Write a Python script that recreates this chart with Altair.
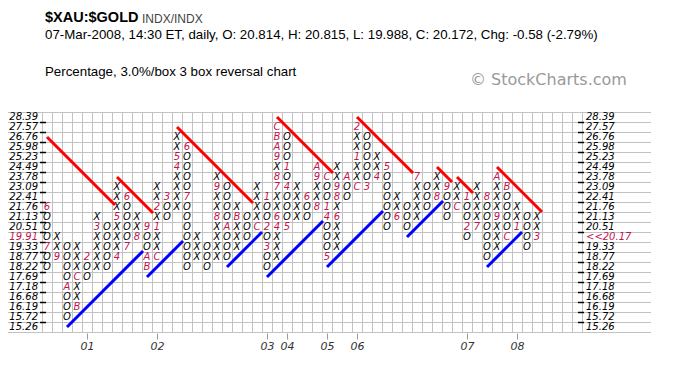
import altair as alt
import pandas as pd

# ---- data -------------------------------------------------------------------------
box_prices = ["28.39", "27.57", "26.76", "25.98", "25.23", "24.49", "23.78", "23.09",
              "22.41", "21.76", "21.13", "20.51", "19.91", "19.33", "18.77", "18.22",
              "17.69", "17.18", "16.68", "16.19", "15.72", "15.26"]
right_labels = ["28.39", "27.57", "26.76", "25.98", "25.23", "24.49", "23.78", "23.09",
                "22.41", "21.76", "21.13", "20.51", "<<20.17", "19.33", "18.77", "18.22",
                "17.69", "17.18", "16.68", "16.19", "15.72", "15.26"]
highlight_row = 12

col_types = "OX" * 25
col_top = [9, 12, 13, 13, 14, 10, 11, 7, 8, 10,
           11, 7, 8, 2, 3, 12, 13, 6, 7, 9,
           10, 7, 8, 1, 2, 7, 8, 5, 6, 5,
           6, 1, 2, 4, 5, 8, 9, 6, 7, 6,
           7, 7, 8, 7, 8, 6, 7, 9, 10, 10]
col_bottom = [15, 14, 20, 19, 16, 15, 15, 14, 13, 12,
              15, 14, 10, 9, 15, 14, 15, 14, 14, 13,
              12, 11, 15, 14, 11, 10, 10, 9, 14, 13,
              8, 7, 7, 6, 11, 10, 11, 10, 9, 8,
              10, 9, 12, 11, 14, 13, 12, 11, 13, 12]

month_col = [0, 0, 1, 2, 3, 3, 4, 5, 7, 7, 8, 8, 9, 10, 10, 10, 11, 11, 11, 12,
             13, 13, 14, 14, 17, 17, 18, 19, 21, 22, 22, 22, 23, 23, 23, 23, 23, 23, 23, 23,
             24, 24, 24, 26, 27, 27, 27, 28, 28, 28, 28, 29, 29, 29, 30, 31, 31, 31, 32, 33,
             34, 35, 37, 39, 40, 41, 42, 42, 43, 44, 45, 45, 46, 46, 47, 49]
month_row = [9, 13, 14, 17, 19, 16, 14, 11, 14, 10, 8, 13, 12, 11, 14, 15, 14, 11, 9, 8,
             5, 4, 3, 8, 10, 7, 11, 10, 11, 8, 11, 13, 11, 10, 7, 6, 4, 3, 2, 1,
             5, 7, 11, 8, 9, 6, 5, 6, 9, 10, 14, 10, 8, 7, 6, 7, 4, 1, 7, 6,
             5, 10, 6, 8, 7, 9, 8, 11, 11, 8, 10, 6, 7, 12, 11, 12]
month_label = ["6", "7", "9", "A", "B", "C", "2", "3", "4", "5", "6", "7", "8", "9", "A", "B", "C", "1", "2", "3",
               "4", "5", "6", "7", "8", "9", "A", "B", "C", "1", "2", "3", "4", "6", "7", "8", "9", "A", "B", "C",
               "1", "4", "5", "6", "8", "9", "A", "C", "1", "4", "5", "6", "8", "9", "A", "C", "1", "2", "3", "4",
               "5", "6", "7", "8", "9", "C", "1", "2", "7", "8", "9", "A", "B", "C", "1", "3"]

# trend lines: start cell and end column (45-degree lines)
red_start_col = [0, 7, 13, 23, 31, 39, 41, 45]
red_start_row = [2, 6, 1, 0, 0, 5, 6, 5]
red_end_col = [6.8, 10.6, 20.6, 28.6, 36.6, 40.5, 42.6, 49.5]
blue_start_col = [2, 10, 18, 22, 28, 36, 44]
blue_start_row = [21, 16, 15, 16, 15, 12, 15]
blue_end_col = [9.6, 13.6, 21.5, 27.6, 33.6, 39.6, 47.5]

year_cols = [4, 11, 22, 24, 28, 31, 42, 47]
year_labels = ["01", "02", "03", "04", "05", "06", "07", "08"]

n_cols = 54
n_rows = len(box_prices)

title_main = "$XAU:$GOLD"
title_exch = "INDX/INDX"
info_line = "07-Mar-2008, 14:30 ET, daily, O: 20.814, H: 20.815, L: 19.988, C: 20.172, Chg: -0.58 (-2.79%)"
chart_type = "Percentage, 3.0%/box 3 box reversal chart"
credit = "\u00a9 StockCharts.com"

# ---- build tables --------------------------------------------------------------------
RED = "#c0144c"
marks = {(c, r): l for c, r, l in zip(month_col, month_row, month_label)}
cells = []
for c, (t, top, bot) in enumerate(zip(col_types, col_top, col_bottom)):
    for r in range(top, bot + 1):
        lab = marks.get((c, r))
        cells.append({"c": c, "r": r, "label": lab if lab else t,
                      "color": RED if lab else "black"})
cells = pd.DataFrame(cells)

lines = []
for i, (c0, r0, c1) in enumerate(zip(red_start_col, red_start_row, red_end_col)):
    lines += [{"id": f"r{i}", "c": c0, "r": r0, "kind": "red"},
              {"id": f"r{i}", "c": c1, "r": r0 + (c1 - c0), "kind": "red"}]
for i, (c0, r0, c1) in enumerate(zip(blue_start_col, blue_start_row, blue_end_col)):
    lines += [{"id": f"b{i}", "c": c0, "r": r0, "kind": "blue"},
              {"id": f"b{i}", "c": c1, "r": r0 - (c1 - c0), "kind": "blue"}]
lines = pd.DataFrame(lines)

vgrid = pd.DataFrame({"c": [i - 0.5 for i in range(n_cols + 1)]})
hgrid = pd.DataFrame({"r": [i - 0.5 for i in range(n_rows + 1)]})
ticks = pd.DataFrame({"r": [i + 0.5 for i in range(n_rows - 1)]})
left_df = pd.DataFrame({"r": list(range(n_rows)), "label": box_prices,
                        "color": [RED if i == highlight_row else "black" for i in range(n_rows)]})
right_df = pd.DataFrame({"r": list(range(n_rows)), "label": right_labels,
                         "color": [RED if i == highlight_row else "black" for i in range(n_rows)]})

# ---- encodings -----------------------------------------------------------------------
label_expr = "[" + ",".join(f"'{l}'" for l in year_labels) + "][indexof([" + \
    ",".join(str(c) for c in year_cols) + "], datum.value)]"
x_axis = alt.Axis(values=year_cols, labelExpr=label_expr, domain=False, grid=False,
                  ticks=True, tickColor="#999999", tickSize=6, offset=1, labelPadding=1,
                  labelFont="DejaVu Sans", labelFontStyle="italic", labelFontSize=11,
                  labelColor="#333333", title=None)
x_scale = alt.Scale(domain=[-0.5, n_cols - 0.5], nice=False, zero=False)
y_scale = alt.Scale(domain=[-0.5, n_rows - 0.5], nice=False, zero=False, reverse=True)
X = alt.X("c:Q", scale=x_scale, axis=x_axis)
Y = alt.Y("r:Q", scale=y_scale, axis=None)

GRID = "#c2c2c2"
vlines = alt.Chart(vgrid).mark_rule(color=GRID, strokeWidth=1, xOffset=0.5).encode(
    x=X, y=alt.value(0), y2=alt.value(n_rows * 10))
hlines = alt.Chart(hgrid).mark_rule(color=GRID, strokeWidth=1, yOffset=0.5).encode(
    y=Y, x=alt.value(-34), x2=alt.value(609))
lticks = alt.Chart(ticks).mark_rule(color="black", strokeWidth=1.5, yOffset=0.5).encode(
    y=Y, x=alt.value(-2), x2=alt.value(4))
rticks = alt.Chart(ticks).mark_rule(color="black", strokeWidth=1.5, yOffset=0.5).encode(
    y=Y, x=alt.value(536), x2=alt.value(542))

boxes = alt.Chart(cells).mark_text(font="DejaVu Sans", fontStyle="italic", fontSize=10,
                                   align="center", baseline="middle").encode(
    x=X, y=Y, text="label:N", color=alt.Color("color:N", scale=None))

trend = alt.Chart(lines).mark_line(strokeWidth=3, strokeCap="butt").encode(
    x=X, y=Y, detail="id:N",
    color=alt.Color("kind:N", scale=alt.Scale(domain=["red", "blue"], range=["#ff0000", "#0000ff"]),
                    legend=None))

llabels = alt.Chart(left_df).mark_text(font="DejaVu Sans", fontStyle="italic", fontSize=10,
                                       align="right", baseline="middle").encode(
    y=Y, x=alt.value(-4), text="label:N", color=alt.Color("color:N", scale=None))
rlabels = alt.Chart(right_df).mark_text(font="DejaVu Sans", fontStyle="italic", fontSize=10,
                                        align="left", baseline="middle").encode(
    y=Y, x=alt.value(544), text="label:N", color=alt.Color("color:N", scale=None))


def text_layer(txt, x, y, **kw):
    return alt.Chart(pd.DataFrame({"t": [txt]})).mark_text(
        align="left", baseline="middle", **kw).encode(text="t:N", x=alt.value(x), y=alt.value(y))


t1 = text_layer(title_main, 3, -94, font="Liberation Sans", fontWeight="bold", fontSize=14.5, color="black")
t2 = text_layer(title_exch, 100, -93, font="Liberation Sans", fontSize=12, color="#444444")
t3 = text_layer(info_line, 3, -77, font="Liberation Sans", fontSize=13.3, color="black")
t4 = text_layer(chart_type, 3, -40, font="Liberation Sans", fontSize=13.3, color="black")
t5 = text_layer(credit, 428, -32, font="DejaVu Sans", fontSize=16, color="#9a9a9a")

chart = alt.layer(vlines, hlines, lticks, rticks, boxes, trend, llabels, rlabels,
                  t1, t2, t3, t4, t5).properties(
    width=540, height=220,
    padding={"left": 34, "top": 104, "right": 80, "bottom": 40},
    autosize=alt.AutoSizeParams(type="none"),
).configure_view(strokeWidth=0)

chart.save("out.html", embed_options={"renderer": "svg", "actions": False})
